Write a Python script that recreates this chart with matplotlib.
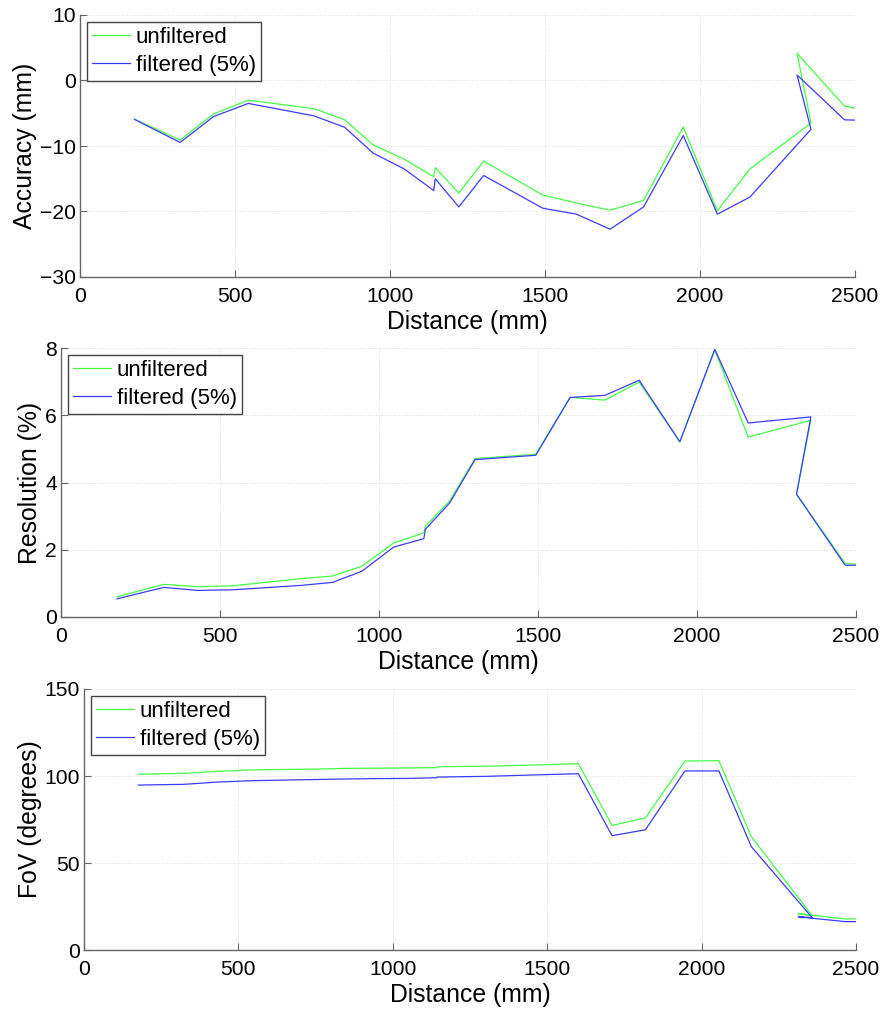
import numpy as np
import matplotlib.pyplot as plt

plt.rcParams['font.family'] = ['Liberation Sans', 'DejaVu Sans']

# measurement distances (mm), same for all three tests
distance = [176, 323, 431, 543, 755, 854, 946, 1046, 1141, 1146, 1222, 1302,
            1493, 1601, 1710, 1818, 1946, 2056, 2161, 2358, 2313, 2466, 2500]

acc_raw = [-5.9, -9.1, -5.1, -3.0, -4.3, -6.0, -9.85, -12.0, -14.7, -13.3, -17.2, -12.3,
           -17.5, -18.7, -19.8, -18.3, -7.1, -19.9, -13.5, -6.5, 4.15, -3.9, -4.25]
acc_filt = [-5.95, -9.45, -5.5, -3.5, -5.4, -7.15, -11.1, -13.5, -16.8, -15.0, -19.3, -14.5,
            -19.5, -20.4, -22.7, -19.3, -8.4, -20.4, -17.8, -7.45, 0.85, -6.0, -6.05]

res_raw = [0.6, 0.97, 0.9, 0.93, 1.14, 1.22, 1.51, 2.2, 2.5, 2.7, 3.45, 4.71,
           4.84, 6.53, 6.45, 6.99, 5.21, 7.94, 5.35, 5.85, 3.65, 1.59, 1.57]
res_filt = [0.54, 0.88, 0.79, 0.81, 0.94, 1.03, 1.36, 2.08, 2.33, 2.61, 3.39, 4.68,
            4.81, 6.53, 6.59, 7.04, 5.21, 7.96, 5.77, 5.95, 3.65, 1.54, 1.54]

fov_raw = [101.0, 101.5, 102.7, 103.5, 104.0, 104.4, 104.5, 104.6, 104.8, 105.3, 105.5, 105.6,
           106.5, 107.1, 71.6, 75.9, 108.6, 108.8, 65.1, 19.7, 20.9, 17.8, 18.0]
fov_filt = [94.8, 95.2, 96.5, 97.3, 98.0, 98.3, 98.5, 98.6, 99.0, 99.4, 99.6, 99.8,
            100.8, 101.3, 65.7, 69.1, 102.9, 102.9, 59.4, 18.6, 19.1, 16.3, 16.3]

panels = [
    (acc_raw, acc_filt, 'Accuracy (mm)', (-30, 10), np.arange(-30, 11, 10),
     [80, 15, 855, 277]),
    (res_raw, res_filt, 'Resolution (%)', (0, 8), np.arange(0, 9, 2),
     [61, 348, 856, 617]),
    (fov_raw, fov_filt, 'FoV (degrees)', (0, 150), np.arange(0, 151, 50),
     [84, 689, 856, 950]),
]

W, H = 886, 1013
fig = plt.figure(figsize=(W / 100, H / 100), dpi=100)

for raw, filt, ylabel, ylim, yticks, box in panels:
    l, t, r, b = box
    ax = fig.add_axes([l / W, 1 - b / H, (r - l) / W, (b - t) / H])
    ax.plot(distance, raw, color='#44ff44', lw=0.9, label='unfiltered')
    ax.plot(distance, filt, color='#3b3bff', lw=0.9, label='filtered (5%)')
    ax.set_xlim(0, 2500)
    ax.set_ylim(*ylim)
    ax.set_xticks(np.arange(0, 2501, 500))
    ax.set_yticks(yticks)
    ax.grid(True, color='#dddddd', lw=0.7, ls=':')
    for side in ['top', 'right']:
        ax.spines[side].set_visible(False)
    for side in ['left', 'bottom']:
        ax.spines[side].set_color('#666666')
        ax.spines[side].set_linewidth(1.0)
    ax.tick_params(direction='in', length=5, color='#666666', labelsize=15.2)
    ax.tick_params(axis='x', pad=7)
    ax.tick_params(axis='y', pad=3)
    ax.set_xlabel('Distance (mm)', fontsize=17.8, labelpad=3)
    ax.set_ylabel(ylabel, fontsize=17.8, labelpad=2)
    leg = ax.legend(loc='upper left', fontsize=16, fancybox=False, framealpha=1,
                    borderaxespad=0.3, handlelength=1.7, handletextpad=0.25,
                    borderpad=0.25, labelspacing=0.3)
    leg.get_frame().set_edgecolor('#444444')
    leg.get_frame().set_linewidth(1.0)

fig.savefig('out.png', dpi=100)
